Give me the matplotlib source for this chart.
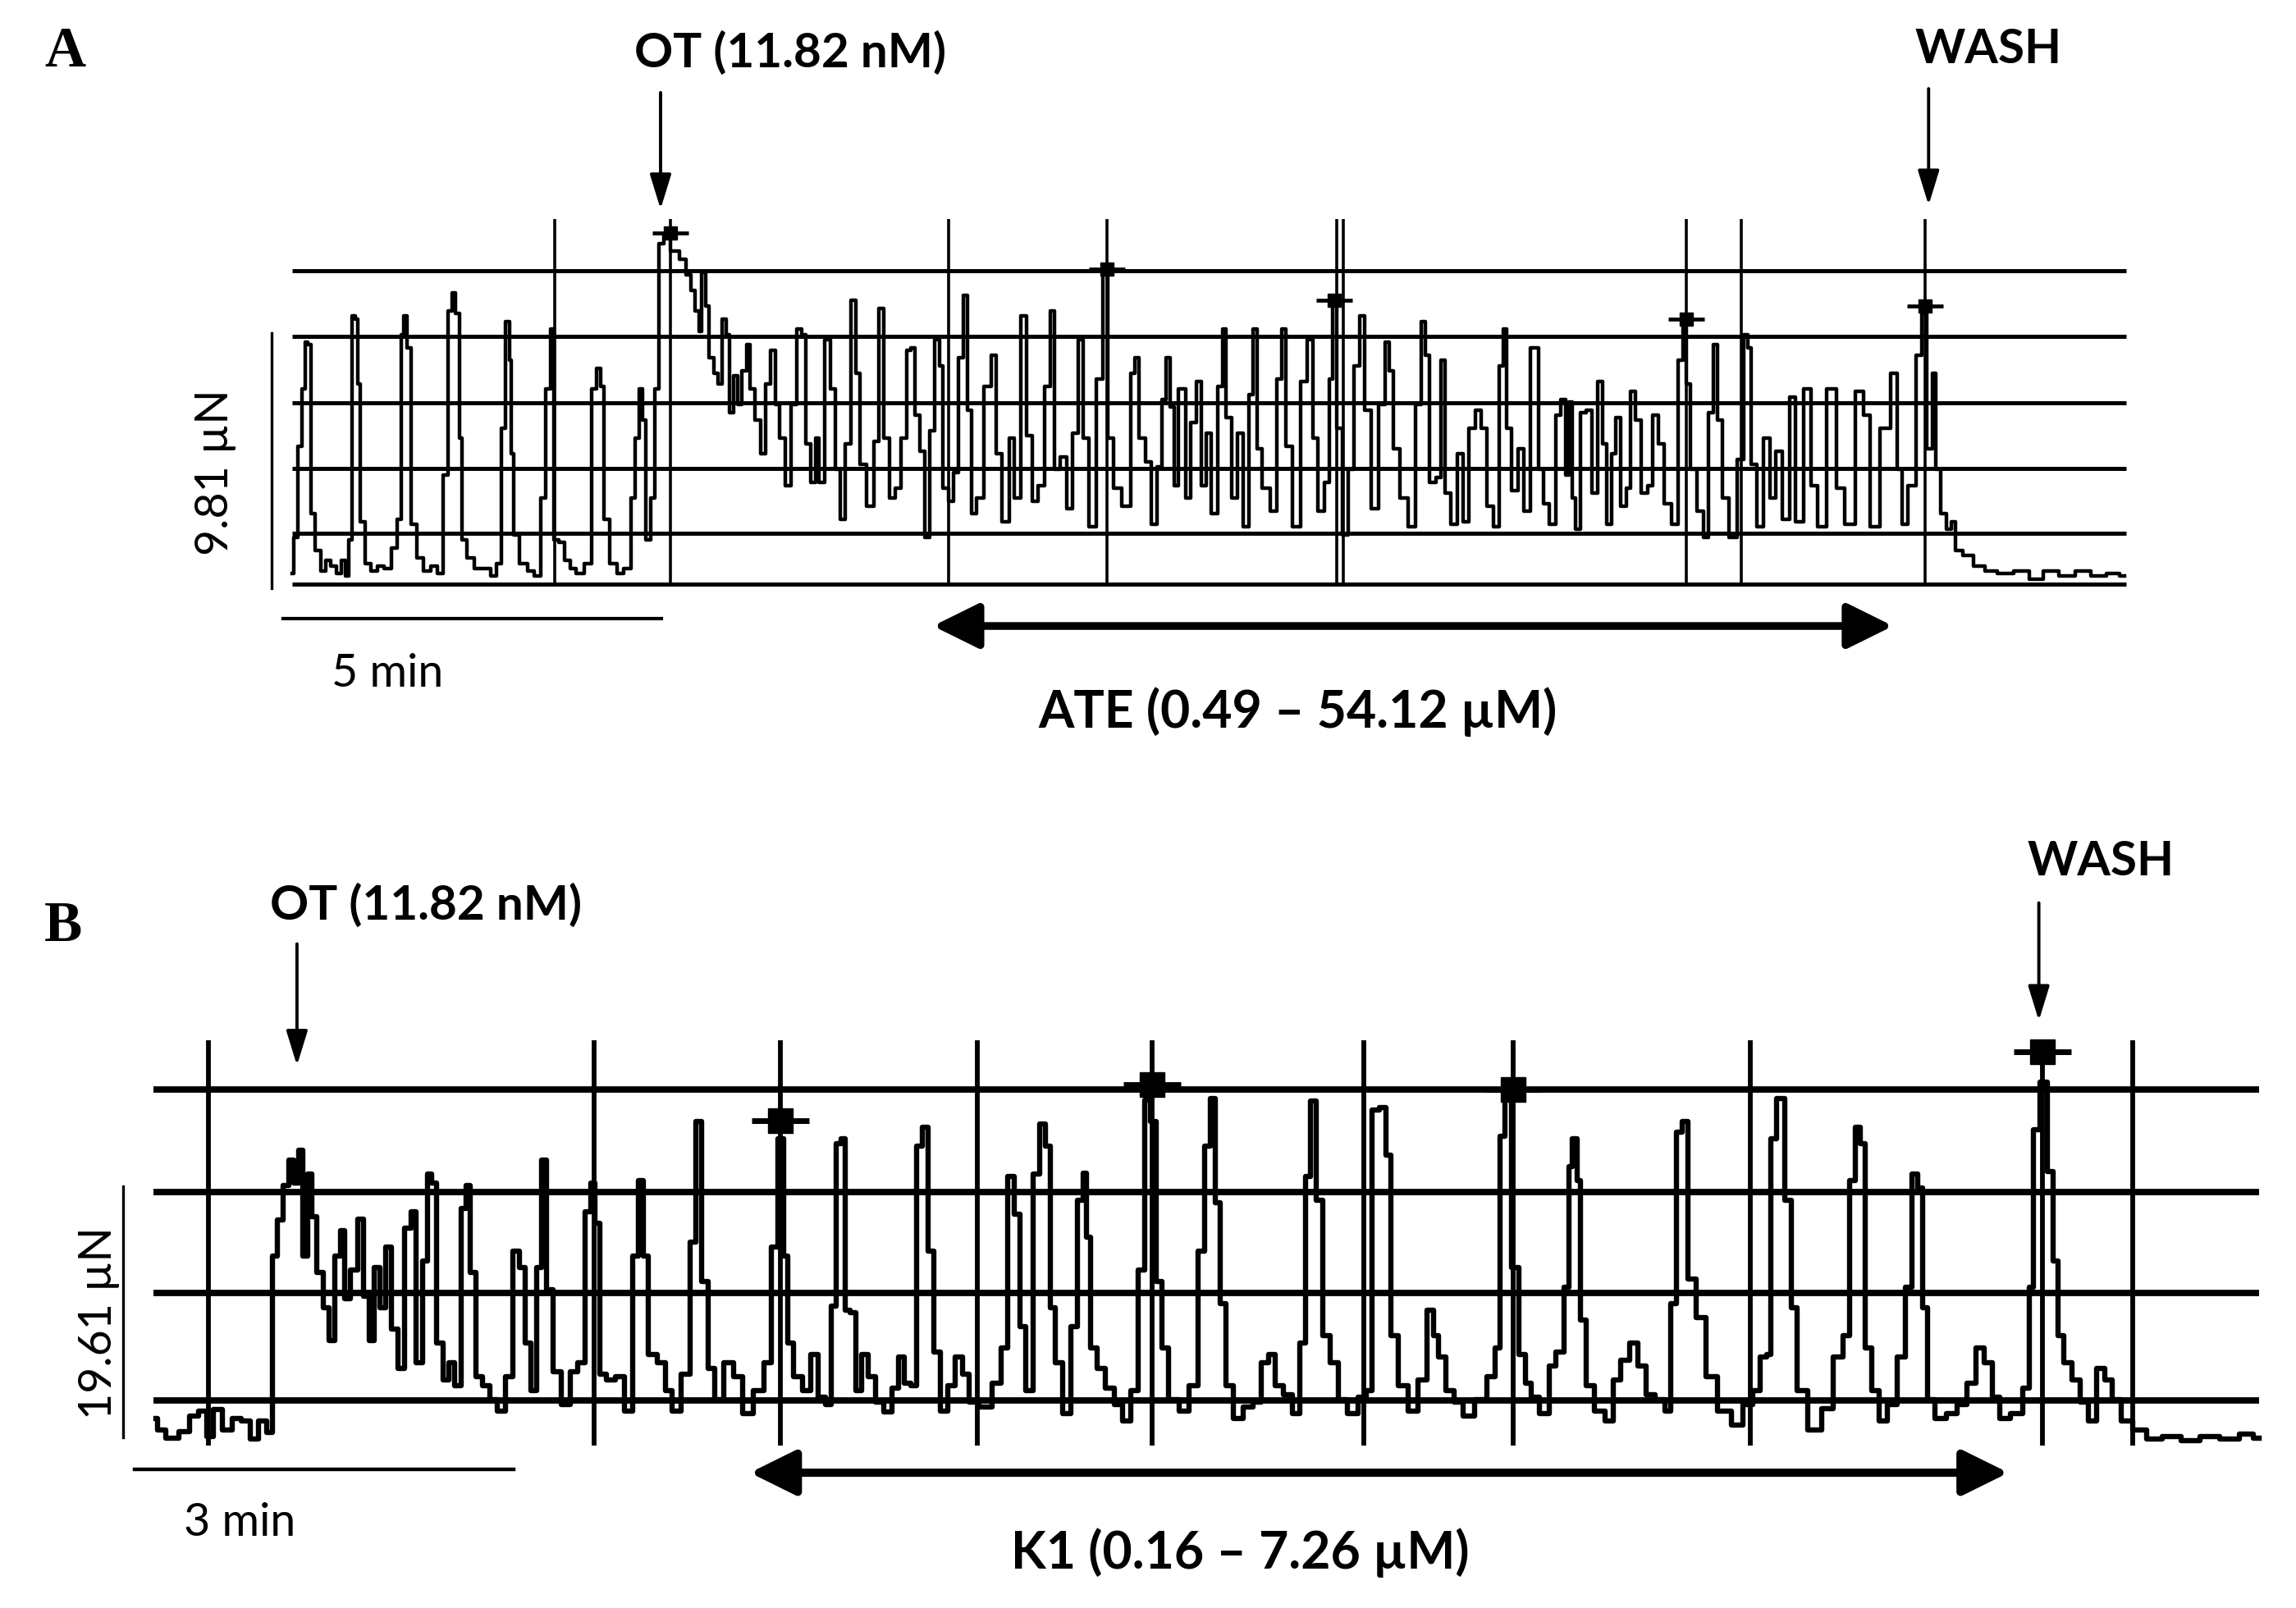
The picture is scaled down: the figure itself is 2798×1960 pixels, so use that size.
import matplotlib
matplotlib.use("Agg")
import matplotlib.pyplot as plt

# ---------------- Panel A data (time in min, force in µN) ----------------
a_time = [
    0.00, 0.04, 0.11, 0.15, 0.19, 0.23, 0.27, 0.34, 0.42, 0.48,
    0.55, 0.62, 0.69, 0.73, 0.77, 0.81, 0.85, 0.88, 0.93, 1.00,
    1.08, 1.17, 1.27, 1.36, 1.42, 1.46, 1.50, 1.54, 1.60, 1.69,
    1.78, 1.88, 1.96, 2.04, 2.09, 2.13, 2.19, 2.23, 2.26, 2.36,
    2.46, 2.58, 2.66, 2.74, 2.79, 2.85, 2.89, 2.91, 2.95, 3.06,
    3.16, 3.25, 3.32, 3.39, 3.44, 3.48, 3.57, 3.64, 3.71, 3.80,
    3.93, 3.99, 4.06, 4.10, 4.14, 4.25, 4.33, 4.44, 4.51, 4.56,
    4.62, 4.65, 4.71, 4.76, 4.82, 4.87, 4.95, 5.06, 5.17, 5.25,
    5.30, 5.36, 5.39, 5.44, 5.49, 5.53, 5.61, 5.65, 5.72, 5.76,
    5.81, 5.87, 5.91, 5.98, 6.03, 6.08, 6.15, 6.23, 6.29, 6.35,
    6.42, 6.47, 6.57, 6.62, 6.72, 6.76, 6.81, 6.89, 6.94, 6.99,
    7.08, 7.14, 7.22, 7.27, 7.35, 7.43, 7.48, 7.54, 7.65, 7.73,
    7.78, 7.85, 7.94, 8.01, 8.09, 8.16, 8.20, 8.26, 8.33, 8.39,
    8.46, 8.53, 8.58, 8.63, 8.72, 8.77, 8.85, 8.90, 8.96, 9.01,
    9.09, 9.20, 9.28, 9.34, 9.43, 9.52, 9.58, 9.68, 9.74, 9.82,
    9.90, 10.00, 10.05, 10.11, 10.20, 10.28, 10.36, 10.43, 10.48, 10.58,
    10.68, 10.75, 10.82, 10.90, 11.04, 11.12, 11.16, 11.22, 11.33, 11.39,
    11.47, 11.53, 11.57, 11.63, 11.69, 11.74, 11.79, 11.83, 11.93, 11.98,
    12.05, 12.11, 12.18, 12.28, 12.31, 12.37, 12.46, 12.53, 12.61, 12.68,
    12.72, 12.78, 12.87, 12.98, 13.06, 13.11, 13.17, 13.27, 13.38, 13.46,
    13.52, 13.60, 13.68, 13.73, 13.78, 13.84, 13.92, 14.00, 14.08, 14.14,
    14.22, 14.30, 14.41, 14.48, 14.53, 14.58, 14.70, 14.80, 14.89, 14.95,
    15.00, 15.07, 15.16, 15.20, 15.27, 15.36, 15.44, 15.51, 15.60, 15.68,
    15.75, 15.83, 15.92, 15.99, 16.02, 16.08, 16.16, 16.24, 16.31, 16.42,
    16.52, 16.57, 16.67, 16.73, 16.81, 16.86, 16.89, 16.94, 16.99, 17.07,
    17.14, 17.21, 17.30, 17.34, 17.41, 17.48, 17.52, 17.60, 17.67, 17.72,
    17.78, 17.89, 17.95, 18.02, 18.10, 18.18, 18.28, 18.36, 18.41, 18.45,
    18.52, 18.62, 18.68, 18.75, 18.81, 18.86, 18.94, 19.05, 19.15, 19.23,
    19.26, 19.31, 19.41, 19.49, 19.57, 19.65, 19.75, 19.83, 19.91, 20.04,
    20.12, 20.20, 20.36, 20.46, 20.59, 20.73, 20.80, 20.91, 21.07, 21.19,
    21.25, 21.30, 21.41, 21.52, 21.57, 21.65, 21.71, 21.75, 21.83, 21.91,
    21.96, 22.01, 22.15, 22.30, 22.46, 22.62, 22.88, 23.04, 23.25, 23.46,
    23.67, 23.88, 24.09, 24.22,
]
a_force = [
    0.4, 1.8, 5.3, 7.5, 9.3, 9.2, 2.7, 1.3, 0.5, 0.9,
    0.7, 0.4, 0.9, 0.3, 1.7, 10.3, 10.2, 7.7, 2.4, 0.8,
    0.5, 0.7, 0.6, 1.4, 2.5, 9.6, 10.3, 9.1, 2.3, 1.0,
    0.5, 0.7, 0.4, 4.2, 10.5, 11.2, 10.4, 5.6, 1.7, 1.0,
    0.6, 0.6, 0.3, 0.8, 6.0, 10.1, 8.6, 5.0, 1.9, 0.8,
    0.5, 0.3, 3.3, 7.5, 9.8, 1.7, 1.6, 0.9, 0.6, 0.4,
    0.8, 7.5, 8.3, 7.6, 2.5, 0.8, 0.4, 0.6, 3.3, 5.6,
    7.5, 6.3, 1.7, 3.3, 7.5, 13.1, 13.4, 12.8, 12.5, 11.9,
    11.3, 10.5, 9.7, 12.0, 10.7, 8.7, 8.1, 7.7, 10.2, 9.6,
    6.6, 8.0, 6.9, 8.2, 9.2, 7.5, 6.3, 5.0, 7.7, 9.0,
    6.9, 5.6, 3.8, 6.9, 9.8, 9.6, 5.4, 3.9, 5.6, 3.9,
    9.4, 7.5, 4.4, 2.5, 5.4, 10.9, 8.1, 4.6, 3.0, 5.5,
    10.6, 5.6, 3.3, 3.7, 5.6, 9.0, 9.1, 6.5, 5.1, 1.8,
    5.9, 9.4, 8.4, 3.7, 3.2, 4.3, 8.7, 11.1, 6.7, 2.7,
    3.3, 7.6, 8.8, 5.0, 2.4, 5.6, 3.3, 10.3, 5.7, 3.2,
    3.8, 7.6, 10.5, 4.4, 4.9, 2.9, 5.8, 9.4, 5.6, 2.2,
    7.9, 12.1, 5.6, 3.7, 3.0, 8.1, 8.7, 5.6, 4.7, 2.3,
    4.5, 7.1, 8.7, 6.8, 3.8, 7.5, 7.5, 3.3, 6.2, 7.8,
    3.8, 5.8, 2.7, 7.6, 9.8, 6.4, 3.3, 5.8, 2.2, 7.3,
    9.8, 5.2, 3.7, 2.8, 7.9, 9.8, 5.3, 2.2, 7.8, 9.4,
    5.6, 2.8, 3.9, 7.9, 10.9, 6.0, 1.9, 4.4, 8.4, 10.3,
    6.7, 2.9, 6.9, 9.3, 8.2, 5.2, 3.3, 2.2, 6.9, 10.1,
    8.8, 3.9, 4.1, 8.6, 3.5, 2.3, 5.0, 2.4, 6.0, 6.7,
    6.0, 3.0, 2.2, 8.4, 9.8, 6.0, 3.6, 5.2, 2.8, 9.1,
    4.4, 3.1, 2.3, 6.5, 7.1, 4.2, 7.0, 3.3, 2.1, 6.6,
    6.7, 3.5, 7.8, 5.4, 2.3, 5.0, 6.4, 3.0, 3.7, 7.4,
    6.3, 3.5, 3.8, 6.5, 5.4, 3.1, 2.3, 8.6, 10.2, 7.7,
    4.4, 2.8, 1.8, 6.6, 9.2, 6.3, 3.3, 1.8, 4.8, 9.6,
    9.1, 4.6, 2.2, 5.6, 3.3, 5.1, 2.5, 7.2, 2.4, 7.5,
    3.8, 2.2, 7.5, 3.7, 2.3, 7.4, 6.5, 2.2, 6.0, 8.1,
    4.4, 2.3, 3.8, 8.8, 10.4, 5.2, 8.1, 4.4, 2.7, 2.1,
    2.4, 1.3, 1.1, 0.7, 0.5, 0.4, 0.5, 0.2, 0.5, 0.3,
    0.5, 0.3, 0.4, 0.3,
]
a_grid_force = [12.05, 9.53, 6.97, 4.45, 1.96, 0.0]
a_event_time = [3.47, 5.00, 8.68, 10.77, 13.81, 13.89, 18.43, 19.15, 21.58]
a_mark_time = [5.00, 10.77, 13.77, 18.43, 21.58]
a_mark_force = [13.5, 12.1, 10.9, 10.2, 10.7]

# ---------------- Panel B data (time in min, force in µN) ----------------
b_time = [
    0.02, 0.04, 0.15, 0.25, 0.32, 0.39, 0.45, 0.50, 0.59, 0.66,
    0.73, 0.80, 0.86, 0.93, 0.96, 1.00, 1.05, 1.09, 1.13, 1.17,
    1.20, 1.24, 1.27, 1.32, 1.37, 1.41, 1.46, 1.50, 1.53, 1.59,
    1.64, 1.68, 1.73, 1.77, 1.82, 1.86, 1.91, 1.96, 2.02, 2.06,
    2.10, 2.16, 2.18, 2.22, 2.26, 2.32, 2.36, 2.41, 2.46, 2.49,
    2.53, 2.57, 2.64, 2.69, 2.75, 2.82, 2.87, 2.92, 2.96, 3.01,
    3.05, 3.09, 3.13, 3.19, 3.27, 3.33, 3.39, 3.44, 3.48, 3.51,
    3.55, 3.62, 3.69, 3.77, 3.81, 3.86, 3.89, 3.94, 4.03, 4.08,
    4.13, 4.22, 4.27, 4.31, 4.36, 4.42, 4.47, 4.56, 4.62, 4.70,
    4.79, 4.87, 4.91, 4.97, 5.01, 5.03, 5.10, 5.17, 5.23, 5.29,
    5.35, 5.38, 5.42, 5.46, 5.49, 5.54, 5.58, 5.63, 5.68, 5.75,
    5.81, 5.88, 5.91, 5.97, 6.02, 6.06, 6.11, 6.15, 6.20, 6.26,
    6.31, 6.38, 6.43, 6.48, 6.59, 6.68, 6.73, 6.79, 6.83, 6.88,
    6.93, 6.99, 7.04, 7.08, 7.11, 7.16, 7.23, 7.29, 7.34, 7.37,
    7.40, 7.43, 7.50, 7.57, 7.64, 7.70, 7.77, 7.82, 7.87, 7.91,
    7.96, 8.00, 8.07, 8.16, 8.23, 8.30, 8.34, 8.39, 8.42, 8.47,
    8.51, 8.58, 8.67, 8.73, 8.80, 8.85, 8.91, 8.98, 9.05, 9.10,
    9.14, 9.17, 9.23, 9.28, 9.35, 9.41, 9.49, 9.57, 9.62, 9.67,
    9.73, 9.78, 9.81, 9.89, 9.97, 10.05, 10.11, 10.15, 10.19, 10.26,
    10.33, 10.40, 10.51, 10.60, 10.64, 10.67, 10.72, 10.78, 10.83, 10.88,
    10.92, 11.02, 11.07, 11.13, 11.19, 11.21, 11.25, 11.28, 11.31, 11.36,
    11.44, 11.53, 11.57, 11.65, 11.72, 11.78, 11.84, 11.93, 11.99, 12.03,
    12.08, 12.12, 12.17, 12.24, 12.33, 12.43, 12.54, 12.62, 12.69, 12.74,
    12.79, 12.81, 12.88, 12.94, 12.98, 13.03, 13.15, 13.25, 13.34, 13.40,
    13.45, 13.49, 13.53, 13.56, 13.63, 13.68, 13.76, 13.84, 13.89, 13.94,
    13.98, 14.02, 14.06, 14.14, 14.24, 14.31, 14.39, 14.46, 14.52, 14.58,
    14.64, 14.75, 14.83, 14.86, 14.90, 14.96, 15.01, 15.05, 15.09, 15.15,
    15.21, 15.28, 15.34, 15.42, 15.47, 15.53, 15.61, 15.72, 15.82, 15.97,
    16.12, 16.27, 16.43, 16.58, 16.66,
]
b_force = [
    2.1, 1.2, 0.6, 1.1, 2.3, 2.7, 0.7, 2.8, 1.2, 2.1,
    1.9, 0.5, 1.9, 1.0, 14.8, 17.6, 20.3, 22.3, 20.5, 23.1,
    14.8, 21.2, 17.9, 13.5, 10.8, 8.2, 14.8, 16.8, 11.5, 13.7,
    17.7, 11.7, 8.2, 13.9, 10.8, 15.5, 9.1, 6.0, 17.0, 18.3,
    6.5, 14.4, 21.2, 20.5, 8.0, 5.1, 6.5, 4.7, 18.5, 20.3,
    13.5, 5.4, 4.7, 3.6, 2.7, 5.4, 15.2, 13.9, 8.0, 4.3,
    13.9, 22.3, 12.2, 5.8, 3.2, 5.8, 6.5, 18.3, 20.5, 17.4,
    5.6, 5.1, 5.4, 2.7, 14.8, 20.7, 14.8, 7.1, 6.5, 4.3,
    2.7, 5.6, 15.9, 25.3, 12.8, 6.0, 3.6, 6.5, 5.4, 2.5,
    4.3, 6.5, 15.5, 24.0, 14.8, 8.0, 5.4, 4.3, 7.1, 3.8,
    3.2, 10.9, 23.6, 24.0, 10.6, 10.4, 4.3, 7.1, 5.4, 3.4,
    2.6, 4.5, 6.9, 4.9, 4.7, 23.4, 24.9, 15.2, 7.3, 2.7,
    4.7, 6.9, 5.6, 3.4, 3.0, 4.9, 7.6, 21.0, 18.1, 9.3,
    4.3, 21.2, 25.1, 23.4, 10.8, 6.5, 2.5, 9.3, 19.2, 21.3,
    16.3, 7.6, 6.0, 4.5, 3.2, 1.9, 4.3, 13.7, 27.0, 25.3,
    12.8, 7.6, 3.6, 2.7, 4.7, 15.2, 23.4, 27.1, 19.0, 11.1,
    4.7, 2.1, 3.0, 3.4, 6.5, 7.1, 4.7, 4.0, 2.5, 8.0,
    21.0, 26.9, 19.2, 8.6, 6.5, 3.6, 2.5, 3.8, 4.3, 26.2,
    26.4, 22.7, 8.6, 4.7, 2.7, 5.1, 10.6, 8.6, 6.9, 4.3,
    3.4, 2.3, 3.6, 5.4, 7.6, 24.2, 27.3, 13.9, 7.1, 4.9,
    3.8, 2.5, 6.2, 7.3, 12.4, 21.8, 24.0, 20.7, 9.8, 4.7,
    2.7, 1.9, 5.1, 6.7, 8.0, 6.2, 4.0, 3.6, 2.7, 11.1,
    24.5, 25.3, 13.0, 10.0, 5.4, 2.7, 1.6, 3.2, 4.3, 6.9,
    7.1, 24.0, 27.1, 19.2, 10.8, 4.3, 1.2, 2.9, 6.9, 8.6,
    20.7, 24.9, 23.6, 7.6, 4.3, 1.9, 3.2, 6.9, 12.4, 21.2,
    20.1, 10.8, 3.6, 2.1, 2.5, 3.2, 4.9, 7.6, 6.5, 3.8,
    2.1, 2.5, 4.5, 12.4, 24.7, 28.4, 21.4, 14.4, 8.6, 6.5,
    5.1, 3.4, 1.9, 6.0, 5.1, 3.6, 1.9, 1.2, 0.5, 0.7,
    0.4, 0.7, 0.5, 0.9, 0.6,
]
b_grid_force = [27.8, 19.8, 11.9, 3.5]
b_event_time = [0.435, 3.49, 4.96, 6.52, 7.90, 9.58, 10.76, 12.64, 14.95, 15.66]
b_mark_time = [4.96, 7.90, 10.76, 14.95]
b_mark_force = [25.4, 28.2, 27.8, 30.8]

# labels
a_title, b_title = "A", "B"
ot_label = "OT (11.82 nM)"
wash_label = "WASH"
a_drug_label = "ATE (0.49 \u2013 54.12 \u00b5M)"
b_drug_label = "K1 (0.16 \u2013 7.26 \u00b5M)"
a_force_bar, a_time_bar = 9.81, 5.0
b_force_bar, b_time_bar = 19.61, 3.0

# ---------------- drawing ----------------
fig = plt.figure(figsize=(27.98, 19.60), dpi=100)
fig.patch.set_facecolor("white")

axA = fig.add_axes([0, 0, 1, 1])
axA.set_xlim(-3.861, 26.486)
axA.set_ylim(-39.37, 22.46)
axA.axis("off")

axB = fig.add_axes([0, 0, 1, 1])
axB.set_xlim(-1.214, 16.955)
axB.set_ylim(-12.69, 112.95)
axB.axis("off")
axB.patch.set_alpha(0)

BOLD = dict(family=["Lato", "DejaVu Sans"], weight="bold", color="black")
REG = dict(family=["Lato", "DejaVu Sans"], weight="normal", color="black")
SERIF = dict(family=["Liberation Serif", "DejaVu Serif"], weight="bold", color="black")


def arrow(ax, x0, y0, x1, y1, lw, style, ms):
    ax.annotate("", xy=(x1, y1), xytext=(x0, y0),
                arrowprops=dict(arrowstyle=style, lw=lw, color="black",
                                shrinkA=0, shrinkB=0, mutation_scale=ms))


# ---- Panel A ----
a_tmax = 24.24
axA.hlines(a_grid_force, 0, a_tmax, color="black", lw=3.6)
axA.vlines(a_event_time, 0, 14.04, color="black", lw=2.6)
axA.plot(a_time, a_force, color="black", lw=3.2, drawstyle="steps-mid")
axA.plot(a_mark_time, a_mark_force, ls="none", marker="s", ms=11, color="black")
axA.plot(a_mark_time, a_mark_force, ls="none", marker="_", ms=32, mew=3.4, color="black")

axA.text(-3.0, 19.9, a_title, fontsize=50, ha="center", va="baseline", **SERIF)
axA.text(6.58, 19.87, ot_label, fontsize=42, ha="center", va="baseline", **BOLD)
axA.text(22.42, 20.03, wash_label, fontsize=42, ha="center", va="baseline", **BOLD)
arrow(axA, 4.87, 18.9, 4.87, 14.42, 2.8, "-|>,head_length=1.3,head_width=0.4", 20)
arrow(axA, 21.63, 19.05, 21.63, 14.57, 2.8, "-|>,head_length=1.3,head_width=0.4", 20)

# scale bars A
axA.plot([-0.27, -0.27], [-0.16, -0.16 + a_force_bar], color="black", lw=2.4)
axA.plot([-0.12, -0.12 + a_time_bar], [-1.32, -1.32], color="black", lw=3.0)
axA.text(-1.01, 4.29, "9.81 \u00b5N", fontsize=40, rotation=90, ha="center", va="center", **REG)
axA.text(1.26, -3.94, "5 min", fontsize=40, ha="center", va="baseline", **REG)

# drug arrow A
arrow(axA, 8.47, -1.61, 21.16, -1.61, 6.8, "<|-|>,head_length=0.85,head_width=0.42", 40)
axA.text(13.29, -5.52, a_drug_label, fontsize=45, ha="center", va="baseline", **BOLD)

# ---- Panel B ----
b_tmax = 16.66
axB.hlines(b_grid_force, 0, b_tmax, color="black", lw=5.6)
axB.vlines(b_event_time, 0, 31.7, color="black", lw=4.2)
axB.plot(b_time, b_force, color="black", lw=4.6, drawstyle="steps-mid")
axB.plot(b_mark_time, b_mark_force, ls="none", marker="s", ms=22, color="black")
axB.plot(b_mark_time, b_mark_force, ls="none", marker="_", ms=50, mew=5.0, color="black")

axB.text(-0.714, 39.4, b_title, fontsize=50, ha="center", va="baseline", **SERIF)
axB.text(2.156, 41.1, ot_label, fontsize=42, ha="center", va="baseline", **BOLD)
axB.text(15.41, 44.55, wash_label, fontsize=42, ha="center", va="baseline", **BOLD)
arrow(axB, 1.136, 39.2, 1.136, 29.7, 2.8, "-|>,head_length=1.3,head_width=0.4", 20)
arrow(axB, 14.92, 42.4, 14.92, 33.2, 2.8, "-|>,head_length=1.3,head_width=0.4", 20)

# scale bars B
axB.plot([-0.24, -0.24], [0.64, 0.64 + b_force_bar], color="black", lw=2.4)
axB.plot([-0.15, -0.15 + b_time_bar], [-1.86, -1.86], color="black", lw=3.2)
axB.text(-0.43, 9.55, "19.61 \u00b5N", fontsize=40, rotation=90, ha="center", va="center", **REG)
axB.text(0.68, -7.05, "3 min", fontsize=40, ha="center", va="baseline", **REG)

# drug arrow B
arrow(axB, 4.72, -2.12, 14.68, -2.12, 7.2, "<|-|>,head_length=0.85,head_width=0.42", 40)
axB.text(8.60, -9.62, b_drug_label, fontsize=45, ha="center", va="baseline", **BOLD)

fig.savefig("out.png", dpi=100, facecolor="white")
